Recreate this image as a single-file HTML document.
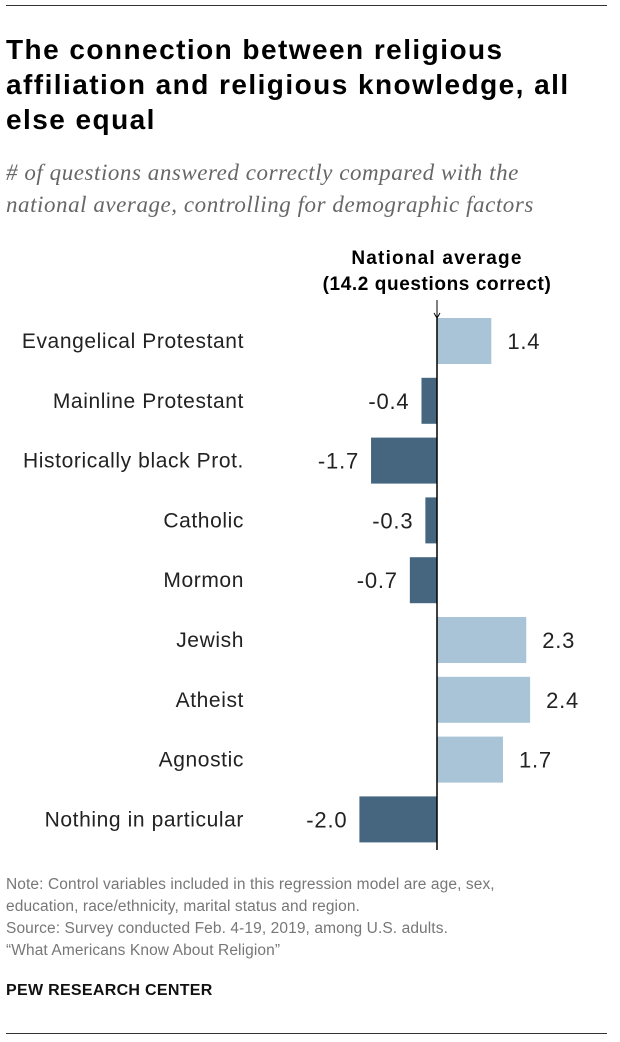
<!DOCTYPE html>
<html><head><meta charset="utf-8">
<style>
body{margin:0;width:620px;height:1042px;background:#fff;font-family:"Liberation Sans",sans-serif;position:relative;overflow:hidden}
.abs{position:absolute}
.title{left:6px;top:32px;font-size:28px;letter-spacing:1.45px;font-weight:bold;line-height:35px;color:#000;width:615px;white-space:nowrap}
.sub{left:6px;top:157px;font-family:"Liberation Serif",serif;font-style:italic;font-size:23px;letter-spacing:0.55px;line-height:32px;color:#666;white-space:nowrap}
.note{left:6px;top:874px;font-size:15.5px;letter-spacing:0.1px;line-height:22px;color:#777;white-space:nowrap}
.pew{left:6px;top:982px;font-size:16px;font-weight:bold;color:#111;letter-spacing:0.3px}
</style></head><body>
<div class="abs" style="left:6px;top:5px;width:601px;height:1px;background:#333"></div>
<div class="abs title">The connection between religious<br>affiliation and religious knowledge, all<br>else equal</div>
<div class="abs sub"># of questions answered correctly compared with the<br>national average, controlling for demographic factors</div>
<svg class="abs" style="left:0;top:0" width="620" height="870" id="chart"></svg>
<div class="abs note">Note: Control variables included in this regression model are age, sex,<br>education, race/ethnicity, marital status and region.<br>Source: Survey conducted Feb. 4-19, 2019, among U.S. adults.<br>“What Americans Know About Religion”</div>
<div class="abs pew">PEW RESEARCH CENTER</div>
<div class="abs" style="left:6px;top:1033px;width:601px;height:1px;background:#333"></div>
<script>
const categories=["Evangelical Protestant","Mainline Protestant","Historically black Prot.","Catholic","Mormon","Jewish","Atheist","Agnostic","Nothing in particular"];
const values=[1.4,-0.4,-1.7,-0.3,-0.7,2.3,2.4,1.7,-2.0];
const valueLabels=["1.4","-0.4","-1.7","-0.3","-0.7","2.3","2.4","1.7","-2.0"];
const svg=document.getElementById('chart');
const NS='http://www.w3.org/2000/svg';
const x0=437,scale=38.8;
const x=v=>x0+v*scale;
const y=i=>341+i*59.8;
const bh=46;
function mk(t,a){const e=document.createElementNS(NS,t);for(const k in a)e.setAttribute(k,a[k]);svg.appendChild(e);return e;}
let t=mk('text',{x:x0,y:264,'text-anchor':'middle','font-size':'19','letter-spacing':'1.2','font-weight':'bold','font-family':'Liberation Sans, sans-serif',fill:'#000'});
t.textContent='National average';


t=mk('text',{x:x0,y:290,'text-anchor':'middle','font-size':'19','letter-spacing':'0.6','font-weight':'bold','font-family':'Liberation Sans, sans-serif',fill:'#000'});
t.textContent='(14.2 questions correct)';


let a=mk('path',{d:`M${x0} 300 L${x0} 318 M${x0-3} 313 L${x0} 318 L${x0+3} 313`,stroke:'#000','stroke-width':'1',fill:'none'});


values.forEach((v,i)=>{
  const r=mk('rect',{x:Math.min(x(v),x0),y:y(i)-bh/2,width:Math.abs(x(v)-x0),height:bh,fill:v>=0?'#a8c4d6':'#46667f'});
  
  
  const c=mk('text',{x:244,y:y(i)+7,'text-anchor':'end','font-size':'21','letter-spacing':'0.6','font-family':'Liberation Sans, sans-serif',fill:'#222'});
  c.textContent=categories[i];
  
  
  const vl=mk('text',{x:v>=0?x(v)+16:x(v)-12,y:y(i)+8,'text-anchor':v>=0?'start':'end','font-size':'22','letter-spacing':'0.8','font-family':'Liberation Sans, sans-serif',fill:'#222'});
  vl.textContent=valueLabels[i];
  
  
});
const ax=mk('line',{x1:x0,y1:318,x2:x0,y2:850,stroke:'#000','stroke-width':'1.5'});


</script>
</body></html>
